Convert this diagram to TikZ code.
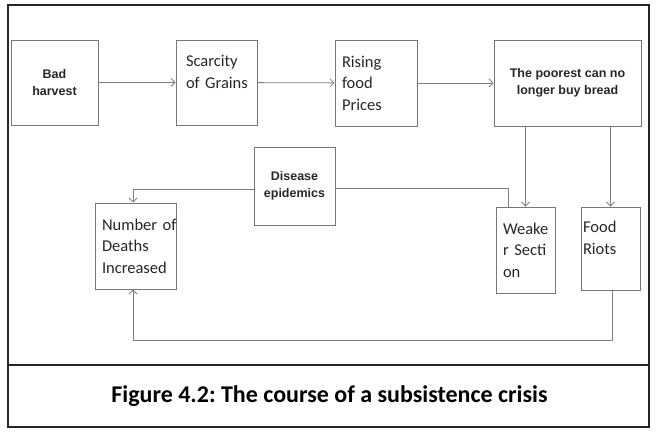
\documentclass[tikz,border=0pt]{standalone}
\usepackage{fontspec}
\setmainfont{Carlito}
\newfontfamily\arialfont{Liberation Sans}
\usetikzlibrary{arrows.meta}
\frenchspacing
\definecolor{boxgray}{HTML}{777777}
\definecolor{linkgray}{HTML}{808080}
\definecolor{inkgray}{HTML}{262626}
\tikzset{
  stagebox/.style={draw=boxgray, line width=0.9pt, text=inkgray, inner ysep=0pt},
  calibox/.style={stagebox, align=left, inner xsep=7pt,
    font=\fontsize{16.5}{21.5}\selectfont},
  arialbox/.style={stagebox, align=center,
    font=\arialfont\bfseries\fontsize{12.5}{17.5}\selectfont},
  link/.style={draw=linkgray, line width=0.8pt},
  arr/.style={link, -{Straight Barb[length=4pt,width=8pt]}},
}
\begin{document}
\begin{tikzpicture}[x=1pt, y=-1pt]
\useasboundingbox (0,0) rectangle (656,436);
\draw[line width=1.8pt, draw=black!85] (8,5) rectangle (649,365);
\draw[line width=1.8pt, draw=black!85] (8,365) rectangle (649,427);
\node[font=\bfseries\fontsize{24}{28}\selectfont, text=black] (caption) at (329.5,396)
  {Figure 4.2: The course of a subsistence crisis};

% top row
\node[arialbox, minimum width=87pt, minimum height=85pt] (bad) at (54.5,82.5) {Bad\\harvest};
\node[calibox, inner xsep=10pt, text width=61pt, minimum height=85pt] (scarcity) at (216.5,82.5)
  {Scarcity\\of~Grains\\\mbox{}};
\node[calibox, text width=68pt, minimum height=86pt] (rising) at (376,83)
  {Rising\\food\\Prices};
\node[arialbox, minimum width=147pt, minimum height=86pt] (poorest) at (567.5,83)
  {The poorest can no\\longer buy bread};

% lower part
\node[arialbox, minimum width=81pt, minimum height=78pt] (disease) at (294.5,186)
  {Disease\\epidemics};
\node[calibox, text width=67pt, minimum height=86pt] (deaths) at (135.5,246)
  {Number~of\\Deaths\\Increased};
\node[calibox, text width=45pt, minimum height=86pt] (weaker) at (525.5,250)
  {Weake\\r~Secti\\on};
\node[calibox, inner xsep=2pt, text width=55pt, minimum height=83pt] (riots) at (610.5,248.5)
  {Food\\Riots\\\mbox{}};

\foreach \a/\b in {bad/scarcity, scarcity/rising, rising/poorest}{
    \draw[arr] (\a) -- (\b);
}
\draw[arr] (poorest.south -| weaker.north) -- (weaker.north);
\draw[arr] (poorest.south -| riots.north) -- (riots.north);
\draw[arr] ([yshift=-3pt]disease.west) -| ([xshift=-2.5pt]deaths.north);
\draw[link] ([yshift=-2pt]disease.east) -| ([xshift=-17.5pt]weaker.north);
\draw[arr] ([xshift=1.5pt]riots.south) -- ++(0,50) -| ([xshift=-2.5pt]deaths.south);
\end{tikzpicture}
\end{document}
